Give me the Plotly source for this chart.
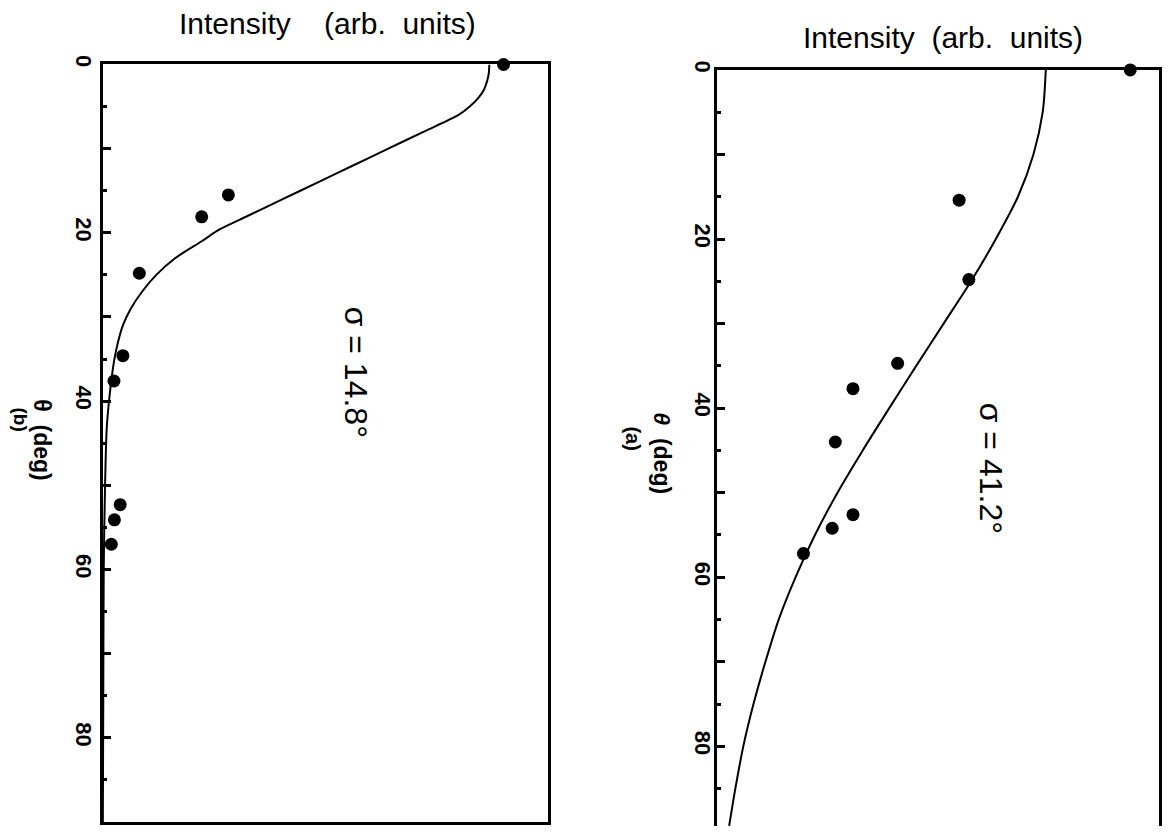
import plotly.graph_objects as go

W, H = 1170, 832
OFFX, OFFY = 8, 14          # where the plot div starts on the page
FW, FH = W - 2 * OFFX, H - OFFY

# ---------------- data ----------------
# panel (b): sigma = 14.8 deg
theta_b_pts = [0.0, 15.5, 18.1, 24.8, 34.6, 37.6, 52.3, 54.1, 57.0]
int_b_pts = [0.90, 0.282, 0.222, 0.082, 0.045, 0.025, 0.039, 0.026, 0.019]
theta_b_fit = [0, 1, 2, 3, 4, 5, 6, 8, 10, 12, 14, 16, 18, 19.6, 21, 23, 25, 27, 29, 31,
               33, 35, 38, 43, 50, 60, 75, 90]
int_b_fit = [0.868, 0.867, 0.863, 0.856, 0.843, 0.824, 0.799, 0.720, 0.641, 0.562, 0.483, 0.404, 0.325, 0.262,
             0.222, 0.163, 0.120, 0.088, 0.063, 0.045, 0.034, 0.026, 0.018, 0.009, 0.005, 0.002, 0.001, 0.0]

# panel (a): sigma = 41.2 deg
theta_a_pts = [0.0, 15.4, 24.8, 34.7, 37.7, 44.0, 52.6, 54.2, 57.2]
int_a_pts = [0.935, 0.548, 0.570, 0.409, 0.308, 0.268, 0.308, 0.261, 0.196]
theta_a_fit = [0, 5, 10, 15, 20, 25, 30, 35, 40, 45, 50, 55, 60, 65, 70, 75, 80, 85, 89.4]
int_a_fit = [0.744, 0.737, 0.716, 0.681, 0.631, 0.575, 0.513, 0.451, 0.390, 0.330, 0.273, 0.222, 0.178,
             0.140, 0.110, 0.083, 0.060, 0.042, 0.028]

theta_ticks = [0, 10, 20, 30, 40, 50, 60, 70, 80, 90]
theta_labels = ["0", "", "20", "", "40", "", "60", "", "80", ""]

title_b = "Intensity\u00a0\u00a0\u00a0\u00a0(arb.\u00a0\u00a0units)"
title_a = "Intensity\u00a0\u00a0(arb.\u00a0\u00a0units)"
sigma_b = "\u03c3 = 14.8\u00b0"
sigma_a = "\u03c3 = 41.2\u00b0"

FONT = "Liberation Sans, Arial, Helvetica, sans-serif"


def px(x):
    return (x - OFFX) / FW


def py(y):
    return 1 - (y - OFFY) / FH


fig = go.Figure()

line_style = dict(color="black", width=2, shape="spline", smoothing=0.8)
fig.add_trace(go.Scatter(x=int_b_fit, y=theta_b_fit, mode="lines", line=line_style,
                         xaxis="x", yaxis="y", showlegend=False))
fig.add_trace(go.Scatter(x=int_b_pts, y=theta_b_pts, mode="markers", marker=dict(color="black", size=13),
                         xaxis="x", yaxis="y", showlegend=False, cliponaxis=False))
fig.add_trace(go.Scatter(x=int_a_fit, y=theta_a_fit, mode="lines", line=line_style,
                         xaxis="x2", yaxis="y2", showlegend=False))
fig.add_trace(go.Scatter(x=int_a_pts, y=theta_a_pts, mode="markers", marker=dict(color="black", size=13),
                         xaxis="x2", yaxis="y2", showlegend=False, cliponaxis=False))


def yaxis_style(standoff):
    return dict(
        tickvals=theta_ticks, ticktext=theta_labels, tickangle=90,
        ticks="inside", ticklen=8, tickwidth=2.5, tickcolor="black",
        minor=dict(dtick=5, tick0=0, ticks="inside", ticklen=4, tickwidth=2.5, tickcolor="black"),
        showline=True, linewidth=3, linecolor="black", mirror=True,
        showgrid=False, zeroline=False,
        tickfont=dict(family=FONT, size=22, color="black", weight="bold"),
        ticklabelstandoff=standoff,
    )


b_top, b_bot = 62, 828
a_top = 67.5
a_scale = 8.55  # px per degree in panel (a)

fig.update_layout(
    width=FW, height=FH,
    margin=dict(l=0, r=0, t=0, b=0),
    paper_bgcolor="white", plot_bgcolor="white",
    font=dict(family=FONT, color="black"),
    xaxis=dict(domain=[px(103), px(549)], range=[0, 1], anchor="y",
               showline=True, linewidth=3, linecolor="black", mirror=True,
               showticklabels=False, ticks="", showgrid=False, zeroline=False),
    yaxis=dict(domain=[max(0, py(b_bot)), py(b_top)], range=[90, 0], anchor="x", **yaxis_style(-3)),
    xaxis2=dict(domain=[px(718), min(1, px(1161))], range=[0, 1], anchor="y2", side="top",
                showline=True, linewidth=3, linecolor="black", mirror=False,
                showticklabels=False, ticks="", showgrid=False, zeroline=False),
    yaxis2=dict(domain=[0, py(a_top)], range=[(H - a_top) / a_scale, 0], anchor="x2", **yaxis_style(-8)),
)

ann = [
    dict(text=title_b, x=px(328), y=py(21), size=30, angle=0, bold=False),
    dict(text=title_a, x=px(945), y=py(35), size=30, angle=0, bold=False),
    dict(text=sigma_b, x=px(357), y=py(373), size=32, angle=90, bold=False),
    dict(text=sigma_a, x=px(993), y=py(470), size=32, angle=90, bold=False),
    dict(text="\u03b8\u00a0\u00a0(deg)", x=px(42), y=py(442), size=23, angle=90, bold=True),
    dict(text="(b)", x=px(21), y=py(421), size=19, angle=90, bold=True),
    dict(text="<i>\u03b8</i>\u00a0\u00a0(deg)", x=px(663), y=py(455), size=23, angle=90, bold=True),
    dict(text="(a)", x=px(634), y=py(440), size=20, angle=90, bold=True),
]
for a in ann:
    fig.add_annotation(
        text=a["text"], x=a["x"], y=a["y"], xref="paper", yref="paper",
        xanchor="center", yanchor="middle", showarrow=False, textangle=a["angle"],
        font=dict(family=FONT, size=a["size"], color="black", weight="bold" if a["bold"] else "normal"),
    )

fig.write_html("out.html")
